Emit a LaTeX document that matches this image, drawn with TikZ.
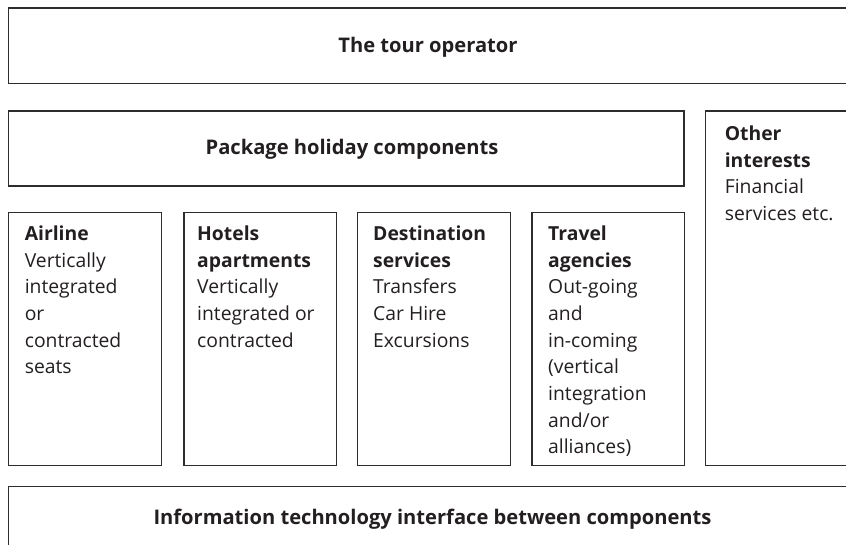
\documentclass[tikz,border=0pt]{standalone}
\usepackage{fontspec}
\setmainfont{Open Sans}

\tikzset{every picture/.style={line width=0.75pt}}
\tikzset{
  boxline/.style={draw={rgb, 255:red, 45; green, 45; blue, 45 }, line width=1pt},
  bodytext/.style={inner sep=0pt, anchor=north west, align=left,
    font=\fontsize{14.5}{20}\selectfont, text={rgb, 255:red, 35; green, 31; blue, 32 }},
  headtext/.style={inner sep=0pt, font=\fontsize{15.1}{20}\selectfont\bfseries,
    text={rgb, 255:red, 35; green, 31; blue, 32 }},
}

\begin{document}
\begin{tikzpicture}[x=0.75pt,y=0.75pt,yscale=-1,xscale=1]
	\useasboundingbox (0,0) rectangle (846,544);

	%Shape: Rectangle [tour operator]
	\draw [boxline] (8.3,8) rectangle (849,83.3) ;
	%Shape: Rectangle [package]
	\draw [boxline] (8.3,111) rectangle (684,186) ;
	%Shape: Rectangle [other interests]
	\draw [boxline] (705.3,111) rectangle (852,465.7) ;
	%Shape: Rectangle [airline]
	\draw [boxline] (8.3,212.7) rectangle (161.7,465.7) ;
	%Shape: Rectangle [hotels]
	\draw [boxline] (184,212.7) rectangle (336.7,465.7) ;
	%Shape: Rectangle [destination]
	\draw [boxline] (357.7,212.7) rectangle (510.7,465.7) ;
	%Shape: Rectangle [travel]
	\draw [boxline] (532,212.7) rectangle (684.7,465.7) ;
	%Shape: Rectangle [IT interface]
	\draw [boxline] (8.3,486.7) rectangle (857,552) ;

	% Text Node
	\node [headtext] (tour) at (428,47) {The tour operator};
	% Text Node
	\node [headtext] (pkg) at (352,149) {Package holiday components};
	% Text Node
	\node [headtext] (itface) at (432.5,519) {Information technology interface between components};
	% Text Node
	\node [bodytext] (other) at (724.3,125.3) {\textbf{Other}\\\textbf{interests}\\Financial\\services etc.};
	% Text Node
	\node [bodytext] (airline) at (24.3,225.3) {\textbf{Airline}\\Vertically\\integrated\\or\\contracted\\seats};
	% Text Node
	\node [bodytext] (hotels) at (196.7,225.3) {\textbf{Hotels}\\\textbf{apartments}\\Vertically\\integrated or\\contracted};
	% Text Node
	\node [bodytext] (dest) at (372.7,225.3) {\textbf{Destination}\\\textbf{services}\\Transfers\\Car Hire\\Excursions};
	% Text Node
	\node [bodytext] (travel) at (547.7,225.3) {\textbf{Travel}\\\textbf{agencies}\\Out-going\\and\\in-coming\\(vertical\\integration\\and/or\\alliances)};

\end{tikzpicture}
\end{document}
